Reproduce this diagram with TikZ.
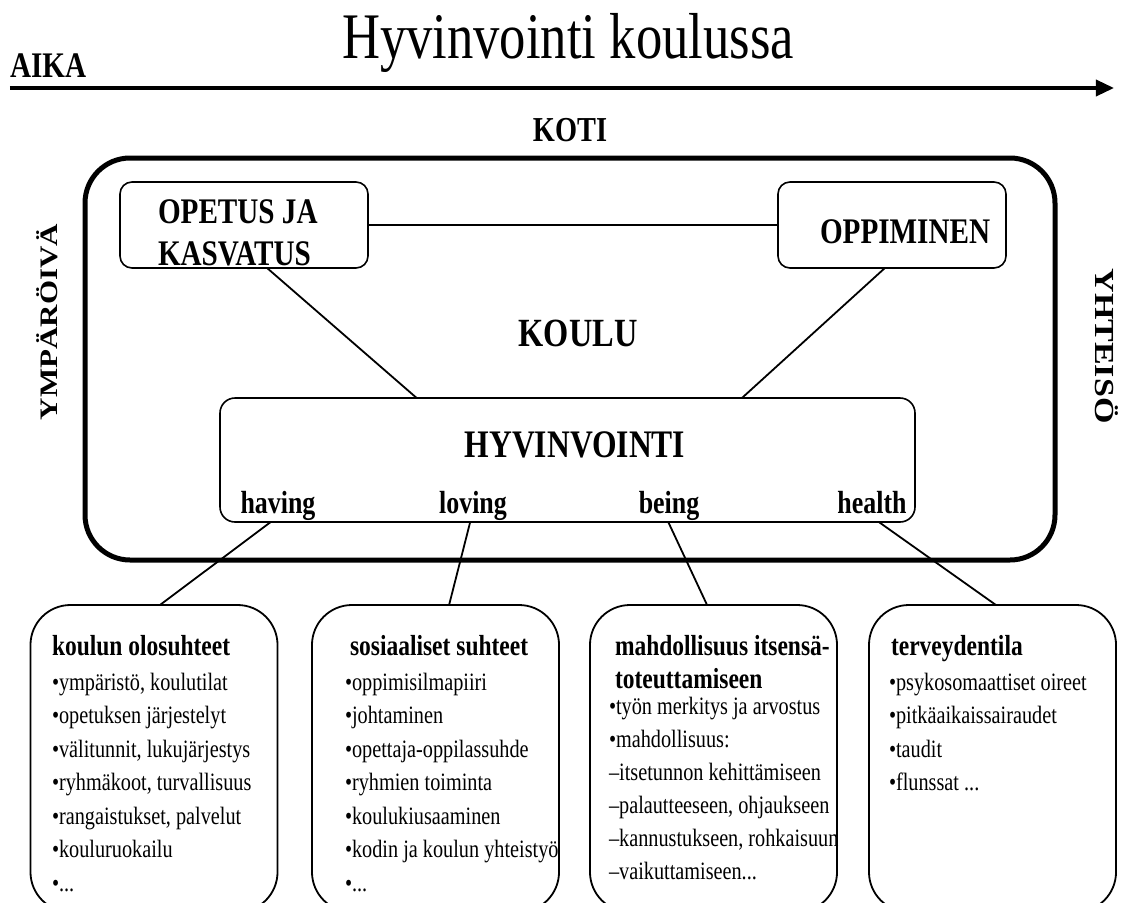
\documentclass[tikz,border=0pt]{standalone}
\usepackage{fontspec}
\setmainfont{Liberation Serif}
\usetikzlibrary{arrows.meta,calc}
\newcommand\fsz[1]{\fontsize{#1}{#1}\selectfont}
\newcommand\tdots{...}
\begin{document}
\begin{tikzpicture}[x=1.2345679pt, y=-1pt, xscale=0.81, transform shape,
  every node/.style={inner sep=0pt, outer sep=0pt},
  box/.style={draw, line width=1.6pt, rounded corners=12pt},
  bigbox/.style={draw, line width=1.8pt, rounded corners=40pt, minimum width=305pt, minimum height=307pt},
  conn/.style={line width=1.8pt},
  hdr/.style={anchor=base west, font=\fsz{29}\bfseries},
  item/.style={anchor=base west, font=\fsz{25}},
  lbl/.style={anchor=base, font=\fsz{32}\bfseries},
]
\useasboundingbox (0,0) rectangle (1129,902);
\fill[white] (0,0) rectangle (1129,902);

% title and time axis
\node[anchor=base, font=\fsz{65}] (title) at (568,58) {Hyvinvointi koulussa};
\node[anchor=base west, font=\fsz{36}\bfseries] (aika) at (10,77) {AIKA};
\coordinate (t0) at (10,88);
\coordinate (t1) at (1114,88);
\draw[line width=3.5pt, -{Triangle[length=18pt,width=16pt]}] (t0) -- (t1);
\node[anchor=base, font=\fsz{35}\bfseries] (koti) at (570,141) {KOTI};

% side labels
\node[font=\fsz{31}\bfseries, rotate=90] (ymp) at (47,322) {YMPÄRÖIVÄ};
\node[font=\fsz{34}\bfseries, rotate=-90] (yht) at (1107,346) {YHTEISÖ};

% school frame
\node[draw, line width=5pt, rounded corners=45pt, minimum width=1197.5pt, minimum height=402pt] (frame) at (570,359) {};

% upper boxes
\node[box, minimum width=306.2pt, minimum height=86pt] (opetus) at (244,225) {};
\node[anchor=base west, font=\fsz{36}\bfseries] (opetus1) at (158,223) {OPETUS JA};
\node[anchor=base west, font=\fsz{36}\bfseries] (opetus2) at (158,265) {KASVATUS};
\node[box, minimum width=281.5pt, minimum height=86pt] (oppi) at (892,225) {};
\node[anchor=base west, font=\fsz{36}\bfseries] (oppit) at (820,243) {OPPIMINEN};
\node[anchor=base, font=\fsz{40}\bfseries] (koulu) at (578,346) {KOULU};

% wellbeing box
\node[box, rounded corners=15pt, minimum width=858pt, minimum height=124pt] (hyv) at (567.5,460) {};
\node[anchor=base, font=\fsz{39}\bfseries] (hyvt) at (575,457) {HYVINVOINTI};
\node[lbl] (having) at (278,513) {having};
\node[lbl] (loving) at (473,513) {loving};
\node[lbl] (being) at (669,513) {being};
\node[lbl] (health) at (872,513) {health};

% connectors inside the school
\draw[conn] (opetus.east) -- (oppi.west);
\draw[conn] ($(opetus.south west)!0.593!(opetus.south east)$) -- ($(hyv.north west)!0.283!(hyv.north east)$);
\draw[conn] ($(oppi.south west)!0.469!(oppi.south east)$) -- ($(hyv.north west)!0.751!(hyv.north east)$);

% bottom boxes
\node[bigbox] (b1) at (154,758.5) {};
\node[bigbox] (b2) at (435.5,758.5) {};
\node[bigbox] (b3) at (713.5,758.5) {};
\node[bigbox] (b4) at (992.5,758.5) {};

\draw[conn] ($(hyv.south west)!0.073!(hyv.south east)$) -- ($(b1.north west)!0.524!(b1.north east)$);
\draw[conn] ($(hyv.south west)!0.360!(hyv.south east)$) -- ($(b2.north west)!0.555!(b2.north east)$);
\draw[conn] ($(hyv.south west)!0.645!(hyv.south east)$) -- ($(b3.north west)!0.474!(b3.north east)$);
\draw[conn] ($(hyv.south west)!0.948!(hyv.south east)$) -- ($(b4.north west)!0.514!(b4.north east)$);

% box 1
\node[hdr] (b1h) at (52,655) {koulun olosuhteet};
\foreach \t [count=\i from 0] in {{•ympäristö, koulutilat},{•opetuksen järjestelyt},{•välitunnit, lukujärjestys},{•ryhmäkoot, turvallisuus},{•rangaistukset, palvelut},{•kouluruokailu},{•\tdots}}
  \node[item] (b1i\i) at (52,{690+33.5*\i}) {\t};

% box 2
\node[hdr] (b2h) at (350,655) {sosiaaliset suhteet};
\foreach \t [count=\i from 0] in {{•oppimisilmapiiri},{•johtaminen},{•opettaja-oppilassuhde},{•ryhmien toiminta},{•koulukiusaaminen},{•kodin ja koulun yhteistyö},{•\tdots}}
  \node[item] (b2i\i) at (345,{690+33.5*\i}) {\t};

% box 3
\node[hdr] (b3h1) at (615,655) {mahdollisuus itsensä-};
\node[hdr] (b3h2) at (615,688) {toteuttamiseen};
\foreach \t [count=\i from 0] in {{•työn merkitys ja arvostus},{•mahdollisuus:},{–itsetunnon kehittämiseen},{–palautteeseen, ohjaukseen},{–kannustukseen, rohkaisuun},{–vaikuttamiseen\tdots}}
  \node[item] (b3i\i) at (609,{714+33*\i}) {\t};

% box 4
\node[hdr] (b4h) at (891,655) {terveydentila};
\foreach \t [count=\i from 0] in {{•psykosomaattiset oireet},{•pitkäaikaissairaudet},{•taudit},{•flunssat \tdots}}
  \node[item] (b4i\i) at (889,{690+33.5*\i}) {\t};
\end{tikzpicture}
\end{document}
